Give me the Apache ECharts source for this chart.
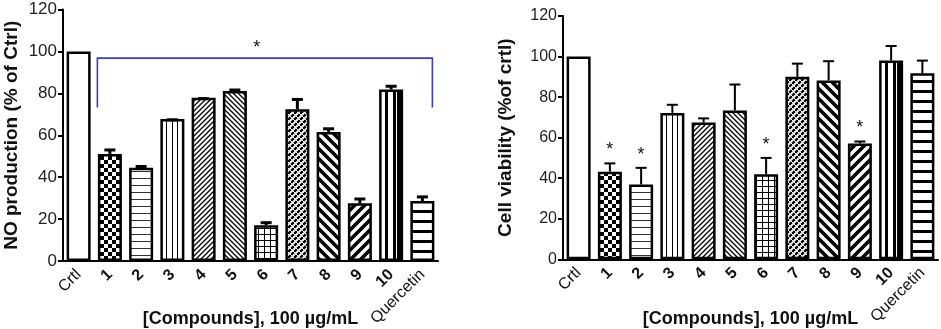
<!DOCTYPE html>
<html><head><meta charset="utf-8">
<script src="https://cdn.jsdelivr.net/npm/echarts@6/dist/echarts.min.js"></script>
<style>html,body{margin:0;padding:0;background:#fff}#c{width:941px;height:329px}</style>
</head><body><div id="c"></div>
<script>
const categories = ['Crtl','1','2','3','4','5','6','7','8','9','10','Quercetin'];
const yTicks = [0, 20, 40, 60, 80, 100, 120];
const noMean = [100, 51, 44.5, 67.7, 77.9, 81.1, 17.1, 72.4, 61.6, 27.5, 81.8, 28.6];
const noErr  = [0, 2.7, 1.3, 0.4, 0.3, 1.2, 1.9, 5.4, 2.2, 2.8, 2.3, 2.7];
const viaMean = [100, 43.2, 36.9, 72.2, 67.5, 73.4, 42, 90, 88.2, 57.1, 98, 91.8];
const viaErr  = [0, 4.6, 8.7, 4.5, 2.5, 13.3, 8.5, 7, 10, 1.5, 7.7, 6.7];
const viaStars = [1, 2, 6, 9];
const bracketFrom = 1, bracketTo = 11;
const bracketTop = 96.8, bracketFoot = 73.2;
const yName1 = 'NO production (% of Ctrl)';
const yName2 = 'Cell viability (%of crtl)';
const xName = '[Compounds], 100 µg/mL';

function tile(s, draw) {
  const c = document.createElement('canvas'); c.width = s; c.height = s;
  const x = c.getContext('2d'); x.fillStyle = '#fff'; x.fillRect(0, 0, s, s);
  x.strokeStyle = '#000'; x.fillStyle = '#000'; draw(x, s);
  return { image: c, repeat: 'repeat' };
}
function diag(x, s, w, dir, col) {
  x.lineWidth = w; x.strokeStyle = col || '#000'; x.beginPath();
  if (dir > 0) {
    x.moveTo(0, s); x.lineTo(s, 0); x.moveTo(-s/2, s/2); x.lineTo(s/2, -s/2); x.moveTo(s/2, s*1.5); x.lineTo(s*1.5, s/2);
  } else {
    x.moveTo(0, 0); x.lineTo(s, s); x.moveTo(-s/2, s/2); x.lineTo(s/2, s*1.5); x.moveTo(s/2, -s/2); x.lineTo(s*1.5, s/2);
  }
  x.stroke();
}
function vstripes(stops) {
  const cs = [];
  stops.forEach(([a, b, c]) => { cs.push({offset: a, color: c}); cs.push({offset: b, color: c}); });
  return { type: 'linear', x: 0, y: 0, x2: 1, y2: 0, colorStops: cs };
}
const patterns = [
  '#fff',
  tile(8, (x) => { x.fillRect(0,0,4,4); x.fillRect(4,4,4,4); }),
  tile(7, (x) => { x.fillStyle = '#333'; x.fillRect(0,3,7,1); }),
  vstripes([[0,0.24,'#fff'],[0.24,0.29,'#000'],[0.29,0.47,'#fff'],[0.47,0.52,'#000'],[0.52,0.70,'#fff'],[0.70,0.75,'#000'],[0.75,1,'#fff']]),
  tile(5, (x, s) => diag(x, s, 1.3, 1)),
  tile(5, (x, s) => diag(x, s, 1.3, -1)),
  tile(6, (x) => { x.fillRect(0,0,6,1); x.fillRect(0,0,1,6); }),
  tile(6, (x, s) => { diag(x, s, 2.4, 1); diag(x, s, 1, -1, '#fff'); }),
  tile(10, (x, s) => diag(x, s, 3.6, -1)),
  tile(10, (x, s) => diag(x, s, 3.6, 1)),
  vstripes([[0,0.26,'#fff'],[0.26,0.36,'#000'],[0.36,0.58,'#fff'],[0.58,0.70,'#000'],[0.70,0.76,'#fff'],[0.76,1,'#000']]),
  tile(10, (x) => { x.fillRect(0,0,10,3); })
];

const chart = echarts.init(document.getElementById('c'), null, {renderer: 'canvas'});
const FONT = 'Liberation Sans, Arial, sans-serif';

function barData(vals) {
  return vals.map((v, i) => ({ value: v, itemStyle: { color: patterns[i] } }));
}
function errSeries(idx, means, errs, lw) {
  return {
    type: 'custom', xAxisIndex: idx, yAxisIndex: idx, z: 5, silent: true,
    data: means.map((m, i) => [i, m, errs[i]]),
    renderItem: (params, api) => {
      const e = api.value(2); if (!e) return null;
      const p0 = api.coord([api.value(0), api.value(1)]);
      const p1 = api.coord([api.value(0), api.value(1) + e]);
      const st = { stroke: '#000', lineWidth: lw };
      return { type: 'group', children: [
        { type: 'line', shape: { x1: p0[0], y1: p0[1], x2: p1[0], y2: p1[1] + lw/2 }, style: st },
        { type: 'line', shape: { x1: p1[0] - 5.5, y1: p1[1] + lw/2, x2: p1[0] + 5.5, y2: p1[1] + lw/2 }, style: st }
      ]};
    }
  };
}
function xAxis(idx) {
  return {
    type: 'category', gridIndex: idx, data: categories, boundaryGap: true,
    axisLine: { lineStyle: { color: '#000', width: 2 } },
    axisTick: { alignWithLabel: true, length: 5, lineStyle: { color: '#000', width: 2 } },
    axisLabel: {
      interval: 0, rotate: 45, margin: 11,
      formatter: (v) => (v === 'Crtl' || v === 'Quercetin') ? '{n|' + v + '}' : '{b|' + v + '}',
      rich: {
        n: { fontFamily: FONT, fontSize: 16, color: '#111' },
        b: { fontFamily: FONT, fontSize: 16, fontWeight: 'bold', color: '#111' }
      }
    },
    name: xName, nameLocation: 'middle', nameGap: idx === 0 ? 49 : 51, nameMoveOverlap: false,
    nameTextStyle: { fontFamily: FONT, fontSize: 18, fontWeight: 'bold', color: '#111' }
  };
}
function yAxis(idx, name, gap, fs) {
  return {
    type: 'value', gridIndex: idx, min: 0, max: 120, interval: 20,
    axisLine: { show: true, lineStyle: { color: '#000', width: 2 } },
    axisTick: { show: true, length: 5, lineStyle: { color: '#000', width: 2 } },
    splitLine: { show: false },
    axisLabel: { fontFamily: FONT, fontSize: fs, color: '#222', margin: 6,
      formatter: (v) => yTicks.includes(v) ? String(v) : '' },
    name: name, nameLocation: 'middle', nameGap: gap, nameRotate: 90, nameMoveOverlap: false,
    nameTextStyle: { fontFamily: FONT, fontSize: 19, fontWeight: 'bold', color: '#111' }
  };
}

chart.setOption({
  animation: false,
  backgroundColor: '#fff',
  grid: [
    { left: 63, top: 9.5, width: 375, height: 251.5, containLabel: false, outerBoundsMode: 'none' },
    { left: 563, top: 16, width: 375, height: 243.3, containLabel: false, outerBoundsMode: 'none' }
  ],
  xAxis: [xAxis(0), xAxis(1)],
  yAxis: [yAxis(0, yName1, 42, 17), yAxis(1, yName2, 48, 16)],
  series: [
    { type: 'bar', xAxisIndex: 0, yAxisIndex: 0, data: barData(noMean), barWidth: 24,
      itemStyle: { borderColor: '#000', borderWidth: 2.5 }, z: 2 },
    { type: 'bar', xAxisIndex: 1, yAxisIndex: 1, data: barData(viaMean), barWidth: 24,
      itemStyle: { borderColor: '#000', borderWidth: 2.5 }, z: 2 },
    errSeries(0, noMean, noErr, 3),
    errSeries(1, viaMean, viaErr, 2),
    { type: 'custom', xAxisIndex: 0, yAxisIndex: 0, z: 6, silent: true,
      data: [[bracketFrom, bracketTo, bracketTop, bracketFoot]],
      renderItem: (params, api) => {
        const a = api.coord([api.value(0), api.value(2)]);
        const b = api.coord([api.value(1), api.value(2)]);
        const f = api.coord([api.value(0), api.value(3)]);
        const xl = a[0] - 12.5, xr = b[0] + 10;
        return { type: 'group', children: [
          { type: 'polyline', shape: { points: [[xl, f[1]], [xl, a[1]], [xr, a[1]], [xr, f[1]]] },
            style: { stroke: '#3b3bd6', lineWidth: 1.6, fill: null } },
          { type: 'text', style: { text: '*', x: (xl + xr) / 2 - 8, y: a[1] - 10, align: 'center', verticalAlign: 'middle',
            fontFamily: FONT, fontSize: 18, fill: '#111' } }
        ]};
      }
    },
    { type: 'custom', xAxisIndex: 1, yAxisIndex: 1, z: 6, silent: true,
      data: viaStars.map(i => [i, viaMean[i] + viaErr[i]]),
      renderItem: (params, api) => {
        const p = api.coord([api.value(0), api.value(1)]);
        return { type: 'text', style: { text: '*', x: p[0], y: p[1] - 12, align: 'center', verticalAlign: 'middle',
          fontFamily: FONT, fontSize: 18, fill: '#111' } };
      }
    }
  ]
});
</script></body></html>
